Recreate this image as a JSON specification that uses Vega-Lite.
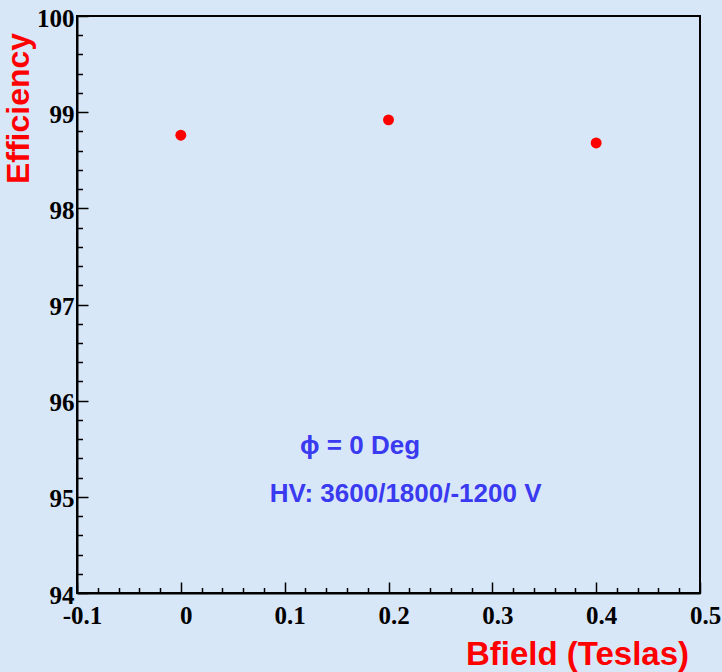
{
  "$schema": "https://vega.github.io/schema/vega-lite/v6.json",
  "autosize": {"type": "none"},
  "width": 623,
  "height": 577,
  "padding": {"left": 77, "top": 16, "right": 22, "bottom": 79},
  "background": "#d8e7f8",
  "config": {
    "view": {"stroke": "#000000", "strokeWidth": 2},
    "axis": {"grid": false, "domainColor": "#000000", "domainWidth": 2, "tickColor": "#000000", "tickWidth": 1.5}
  },
  "datasets": {
    "pts": [
      {"B": 0.0, "eff": 98.76},
      {"B": 0.2, "eff": 98.92},
      {"B": 0.4, "eff": 98.68}
    ],
    "notes": [
      {"B": 0.1726, "eff": 95.53, "label": "ϕ = 0 Deg"},
      {"B": 0.2165, "eff": 95.03, "label": "HV: 3600/1800/-1200 V"}
    ]
  },
  "layer": [
    {
      "data": {"name": "pts"},
      "mark": {"type": "point", "opacity": 0},
      "encoding": {
        "x": {"field": "B", "type": "quantitative",
          "scale": {"domain": [-0.1, 0.5], "nice": false, "zero": false},
          "axis": {"orient": "bottom", "values": [-0.08,-0.06,-0.04,-0.02,0.02,0.04,0.06,0.08,0.12,0.14,0.16,0.18,0.22,0.24,0.26,0.28,0.32,0.34,0.36,0.38,0.42,0.44,0.46,0.48],
            "labels": false, "title": null, "domain": false, "tickSize": -5.5}},
        "y": {"field": "eff", "type": "quantitative",
          "scale": {"domain": [94, 100], "nice": false, "zero": false},
          "axis": {"orient": "left", "values": [94.2,94.4,94.6,94.8,95.2,95.4,95.6,95.8,96.2,96.4,96.6,96.8,97.2,97.4,97.6,97.8,98.2,98.4,98.6,98.8,99.2,99.4,99.6,99.8],
            "labels": false, "title": null, "domain": false, "tickSize": -5.5}}
      }
    },
    {
      "data": {"name": "pts"},
      "mark": {"type": "circle", "color": "#ff0000", "opacity": 1, "size": 120},
      "encoding": {
        "x": {"field": "B", "type": "quantitative",
          "scale": {"domain": [-0.1, 0.5], "nice": false, "zero": false},
          "axis": {"orient": "bottom", "values": [-0.1, 0, 0.1, 0.2, 0.3, 0.4, 0.5], "tickSize": -11,
            "labelExpr": "datum.value < 0 ? '-' + format(-datum.value, '~g') : format(datum.value, '~g')",
            "labelFont": "Liberation Serif", "labelFontWeight": "bold", "labelFontSize": 25, "labelColor": "#000000",
            "labelPadding": 33, "labelOffset": 5, "labelBaseline": "middle", "labelFlush": false,
            "title": "Bfield (Teslas)", "titleFont": "Liberation Sans", "titleFontWeight": "bold", "titleFontSize": 33, "titleColor": "#ff0000",
            "titleX": 500, "titleY": 61, "titleAlign": "center", "titleBaseline": "middle"}},
        "y": {"field": "eff", "type": "quantitative",
          "scale": {"domain": [94, 100], "nice": false, "zero": false},
          "axis": {"orient": "left", "values": [94, 95, 96, 97, 98, 99, 100], "tickSize": -11, "format": "d",
            "labelFont": "Liberation Serif", "labelFontWeight": "bold", "labelFontSize": 25, "labelColor": "#000000",
            "labelPadding": 14, "labelOffset": 2, "labelBaseline": "middle", "labelFlush": false,
            "title": "Efficiency", "titleFont": "Liberation Sans", "titleFontWeight": "bold", "titleFontSize": 32, "titleColor": "#ff0000",
            "titleX": -59, "titleY": 92, "titleAlign": "center", "titleBaseline": "middle", "titleAngle": -90}}
      }
    },
    {
      "data": {"name": "notes"},
      "mark": {"type": "text", "font": "Liberation Sans", "fontWeight": "bold", "fontSize": 26, "color": "#3a3af0", "align": "center", "baseline": "middle"},
      "encoding": {
        "x": {"field": "B", "type": "quantitative", "scale": {"domain": [-0.1, 0.5], "nice": false, "zero": false}, "axis": null},
        "y": {"field": "eff", "type": "quantitative", "scale": {"domain": [94, 100], "nice": false, "zero": false}, "axis": null},
        "text": {"field": "label"}
      }
    }
  ],
  "resolve": {"axis": {"x": "independent", "y": "independent"}}
}
